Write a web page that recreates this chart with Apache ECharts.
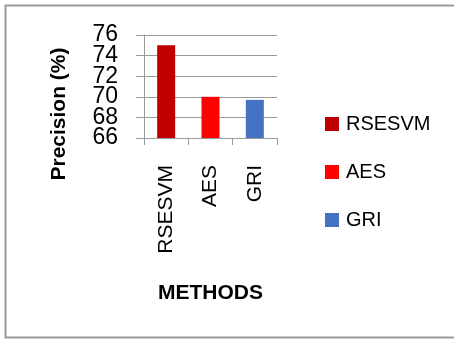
<!DOCTYPE html>
<html><head><meta charset="utf-8">
<script src="https://cdn.jsdelivr.net/npm/echarts@6/dist/echarts.min.js"></script>
<style>html,body{margin:0;padding:0;background:#fff}#c{width:454px;height:340px}</style>
</head><body><div id="c"></div>
<script>
const categories = ["RSESVM", "AES", "GRI"];
const seriesNames = ["RSESVM", "AES", "GRI"];
const values = [75.0, 70.0, 69.7];
const colors = ["#C00000", "#FF0000", "#4472C4"];
const yTicks = [66, 68, 70, 72, 74, 76];

const chart = echarts.init(document.getElementById('c'));
const FONT = '"Liberation Sans", Arial, sans-serif';
const series = seriesNames.map((n, i) => ({
  name: n, type: 'bar', stack: 's', barWidth: 18,
  itemStyle: { color: colors[i] },
  data: categories.map((c, j) => j === i ? values[i] : '-')
}));
const baseGraphic = [
  { type: 'rect', shape: { x: 5.5, y: 5.5, width: 460, height: 332 }, style: { fill: 'none', stroke: '#9a9a9a', lineWidth: 2 } },
  { type: 'text', x: 59, y: 114, rotation: Math.PI / 2, style: { text: 'Precision (%)', fontSize: 21, fontWeight: 'bold', fill: '#000', fontFamily: FONT, align: 'center', verticalAlign: 'middle' } }
];
chart.setOption({
  animation: false,
  grid: { left: 144, right: 177, top: 35, bottom: 202 },
  xAxis: {
    type: 'category', data: categories,
    axisLine: { lineStyle: { color: '#999', width: 1 } },
    axisTick: { show: true, length: 7, alignWithLabel: false, lineStyle: { color: '#999' } },
    axisLabel: { rotate: 90, margin: 27, fontSize: 21, color: '#000', fontFamily: FONT },
    name: 'METHODS', nameLocation: 'middle', nameGap: 145,
    nameTextStyle: { fontSize: 21, fontWeight: 'bold', color: '#000', fontFamily: FONT }
  },
  yAxis: {
    type: 'value', min: yTicks[0], max: yTicks[yTicks.length - 1], interval: 2,
    axisLine: { show: true, lineStyle: { color: '#999' } },
    axisTick: { show: true, length: 8, lineStyle: { color: '#999' } },
    splitLine: { lineStyle: { color: '#999' } },
    axisLabel: { show: false }
  },
  legend: {
    orient: 'vertical', left: 320, top: 109, itemWidth: 14, itemHeight: 14, itemGap: 28,
    icon: 'rect',
    textStyle: { fontSize: 20, color: '#000', fontFamily: FONT, lineHeight: 20, padding: [0, 0, 0, 2] },
    data: seriesNames
  },
  graphic: baseGraphic,
  series: series
});
// y tick labels placed through the axis scale (ECharts hides some when they are this large)
const tickTexts = yTicks.map(v => {
  const py = chart.convertToPixel({ yAxisIndex: 0 }, v);
  return { type: 'text', x: 144 - 26, y: py, style: { text: String(v), fontSize: 23, fill: '#000', fontFamily: FONT, align: 'right', verticalAlign: 'middle' } };
});
chart.setOption({ graphic: baseGraphic.concat(tickTexts) }, { replaceMerge: ['graphic'] });
</script></body></html>
